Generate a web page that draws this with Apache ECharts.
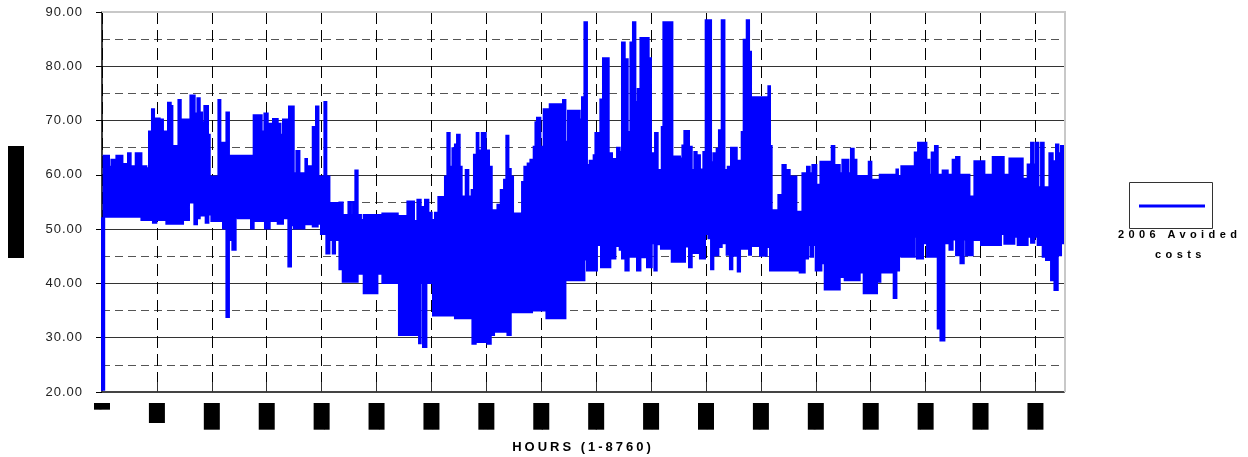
<!DOCTYPE html>
<html>
<head>
<meta charset="utf-8">
<script src="https://cdn.jsdelivr.net/npm/echarts@6/dist/echarts.min.js"></script>
<style>
html,body{margin:0;padding:0;background:#fff;}
#chart{width:1248px;height:457px;}
</style>
</head>
<body>
<div id="chart"></div>
<script>
// ---- Data (hour where a level starts, level in $/MWh) ----
const seriesName = '2006 Avoided costs';
const xTickLabels = ['0','500','1000','1500','2000','2500','3000','3500','4000','4500','5000','5500','6000','6500','7000','7500','8000','8500'];
const yTickLabels = ['20.00','30.00','40.00','50.00','60.00','70.00','80.00','90.00'];

// upper envelope of the hourly price trace
const highHours = [0,15,64,86,131,186,237,261,307,359,404,428,455,474,525,555,601,626,641,696,717,787,805,844,869,890,911,932,965,981,1060,1078,1133,1156,1381,1454,1479,1509,1539,1557,1600,1625,1648,1685,1703,1746,1770,1798,1852,1867,1919,1949,1971,2025,2043,2071,2162,2192,2244,2267,2286,2307,2328,2358,2383,2553,2693,2781,2841,2872,2902,2941,2972,3002,3032,3063,3123,3145,3166,3191,3214,3233,3257,3275,3312,3336,3366,3387,3412,3428,3458,3494,3524,3549,3601,3631,3661,3682,3701,3722,3743,3825,3846,3876,3901,3931,3947,3961,3992,4022,4077,4198,4220,4243,4350,4371,4393,4416,4441,4477,4493,4538,4562,4614,4644,4690,4714,4735,4760,4787,4812,4835,4857,4878,4903,4978,4999,5036,5060,5097,5112,5194,5263,5285,5303,5345,5370,5394,5415,5445,5476,5497,5546,5567,5597,5618,5643,5668,5698,5728,5780,5825,5843,5871,5892,5910,6068,6083,6098,6159,6196,6226,6262,6323,6378,6420,6444,6469,6505,6542,6645,6669,6718,6742,6797,6820,6845,6870,6982,7006,7082,7234,7248,7279,7401,7431,7507,7519,7534,7555,7585,7610,7655,7701,7746,7777,7808,7899,7944,8035,8111,8211,8263,8384,8429,8460,8484,8505,8527,8551,8575,8627,8657,8687,8709,8733];
const highValues = [52.0,63.5,61.5,62.8,63.5,62.0,64.0,61.6,64.0,61.6,61.2,68.0,72.1,70.4,70.2,68.0,73.3,72.7,65.3,73.8,70.2,69.7,74.6,71.3,74.1,71.5,69.7,72.7,67.4,59.7,73.8,65.9,71.5,63.5,71.0,68.0,71.3,69.4,66.6,70.3,69.4,67.4,70.2,60.3,72.6,60.3,64.4,60.3,62.9,61.6,68.8,72.6,59.7,73.4,59.7,54.8,54.9,52.6,55.0,52.6,55.0,60.8,52.6,51.7,52.6,52.9,52.4,55.1,51.5,55.4,54.1,55.4,53.0,51.7,53.0,55.9,59.7,67.7,61.5,64.9,65.6,67.4,61.5,56.0,60.9,56.0,57.2,63.7,67.7,64.5,67.7,64.5,61.5,53.5,54.5,57.2,59.1,67.2,61.1,59.7,52.9,58.7,61.5,62.1,62.8,65.2,69.7,70.5,65.2,72.1,73.0,73.8,66.1,71.8,70.2,74.3,88.1,61.8,62.6,63.6,67.7,73.9,81.5,64.0,62.9,65.0,64.2,84.4,81.3,67.9,84.4,88.1,73.4,75.8,85.2,81.5,64.0,67.7,60.9,68.8,88.1,63.4,63.0,65.4,68.1,65.2,60.9,64.2,63.6,61.0,64.2,88.5,62.3,64.0,64.8,68.2,88.5,60.9,61.5,65.0,62.6,67.9,84.9,88.5,82.7,74.3,76.3,65.3,53.5,56.3,61.8,60.9,59.7,53.2,60.3,61.5,60.3,61.8,58.2,62.4,65.3,61.8,60.3,62.8,60.3,64.8,62.8,59.8,62.4,59.1,60.0,61.0,59.8,61.6,64.1,65.9,61.8,62.8,60.0,64.1,65.3,60.0,60.8,60.0,62.8,63.3,60.0,56.0,62.5,60.0,63.3,60.0,63.0,59.3,61.9,65.9,61.9,65.9,57.7,65.9,57.7,64.0,62.5,65.6,64.0,65.3];

// lower envelope of the hourly price trace
const lowHours = [0,20,359,464,495,586,738,792,841,865,890,944,969,996,1102,1133,1156,1187,1217,1236,1357,1381,1484,1527,1600,1648,1697,1721,1746,1843,1919,1964,1994,2043,2071,2101,2122,2162,2192,2328,2383,2508,2553,2690,2704,2887,2902,2923,2954,3014,3214,3373,3403,3509,3540,3570,3692,3722,3916,4047,4220,4393,4416,4507,4544,4629,4675,4714,4735,4766,4796,4872,4903,4963,5006,5030,5051,5090,5188,5309,5345,5370,5445,5491,5522,5546,5567,5613,5643,5688,5718,5740,5789,5810,5892,5910,5992,6053,6083,6353,6399,6429,6451,6475,6499,6551,6581,6718,6763,6900,6936,7057,7088,7209,7234,7258,7279,7401,7421,7476,7513,7610,7635,7671,7717,7746,7777,7817,7847,7868,7929,8004,8186,8217,8308,8338,8429,8460,8490,8520,8566,8596,8642,8673,8703,8733];
const lowValues = [20.4,52.3,51.7,51.2,51.7,51.0,51.7,54.9,50.9,52.0,52.5,51.2,52.7,51.5,50.1,33.8,48.0,46.2,52.3,52.0,50.1,51.5,50.1,51.5,51.0,52.0,43.1,50.7,50.1,50.9,50.5,51.0,49.1,45.5,48.0,45.5,48.0,42.6,40.3,41.8,38.2,41.8,40.1,42.6,30.5,29.0,40.1,28.3,40.1,34.1,33.6,28.9,29.2,28.9,30.5,31.1,30.5,34.7,35.0,33.6,40.6,44.4,42.4,47.1,43.0,44.6,46.9,46.2,44.6,42.4,44.9,42.4,44.8,43.0,47.4,42.4,47.2,46.4,44.0,46.8,43.0,45.6,44.6,49.1,48.3,42.6,45.2,46.7,47.4,45.3,42.6,45.1,42.2,46.4,45.3,46.9,45.1,46.7,42.4,42.0,44.6,47.1,44.9,47.1,42.4,43.7,38.9,41.2,40.6,42.0,38.2,40.3,42.0,37.3,42.4,45.1,44.9,48.6,44.6,47.4,44.9,31.7,29.5,47.4,46.2,48.1,45.2,43.7,48.1,45.2,48.0,47.1,49.1,47.3,48.6,47.1,48.6,47.5,48.6,47.1,44.9,44.3,40.6,38.8,45.2,47.4];

const HOUR_MAX = 8760;

// letter spacing as in the reference typography
(function(){
  const proto = CanvasRenderingContext2D.prototype;
  const d = Object.getOwnPropertyDescriptor(proto, 'font');
  if (!d || !('letterSpacing' in proto)) return;
  Object.defineProperty(proto, 'font', {
    configurable: true,
    get(){ return d.get.call(this); },
    set(v){
      d.set.call(this, v);
      let ls = '0px';
      if (/bold/.test(v) && /11px/.test(v)) ls = '4.4px';
      else if (/bold/.test(v)) ls = '3px';
      else if (/13px/.test(v)) ls = '1px';
      this.letterSpacing = ls;
    }
  });
})();

const chart = echarts.init(document.getElementById('chart'), null, {renderer: 'canvas'});
const FONT = "'Liberation Sans', Arial, sans-serif";

function bandPoints(api) {
  const pts = [];
  for (let i = 0; i < highHours.length; i++) {
    const x0 = highHours[i];
    const x1 = i + 1 < highHours.length ? highHours[i + 1] : HOUR_MAX;
    pts.push(api.coord([x0, highValues[i]]), api.coord([x1, highValues[i]]));
  }
  for (let i = lowHours.length - 1; i >= 0; i--) {
    const x0 = lowHours[i];
    const x1 = i + 1 < lowHours.length ? lowHours[i + 1] : HOUR_MAX;
    pts.push(api.coord([x1, lowValues[i]]), api.coord([x0, lowValues[i]]));
  }
  return pts;
}

chart.setOption({
  animation: false,
  backgroundColor: '#ffffff',
  grid: {left: 102, right: 184, top: 12, bottom: 65, outerBoundsMode: 'none', containLabel: false, show: false},
  legend: {
    left: 1134, top: 199.5, itemWidth: 66, itemHeight: 3, icon: 'rect',
    selectedMode: false, formatter: () => '', z: 10,
    data: [{name: seriesName, itemStyle: {color: '#0000FF'}}]
  },
  graphic: [
    {type: 'rect', z: 1, shape: {x: 1129.5, y: 182.5, width: 83, height: 46}, style: {fill: '#ffffff', stroke: '#333333', lineWidth: 1}},
    {type: 'text', z: 11, left: 1118, top: 227, style: {text: '2006 Avoided', font: "bold 11px 'Liberation Sans', Arial", fill: '#000'}},
    {type: 'text', z: 11, left: 1155, top: 247, style: {text: 'costs', font: "bold 11px 'Liberation Sans', Arial", fill: '#000'}},
    // light grey frame on the top and right of the plot, as in the reference
    {type: 'line', z: 20, shape: {x1: 102, y1: 12, x2: 1065, y2: 12}, style: {stroke: '#c8c8c8', lineWidth: 2}},
    {type: 'line', z: 20, shape: {x1: 1065, y1: 11, x2: 1065, y2: 392}, style: {stroke: '#c8c8c8', lineWidth: 2}}
  ],
  xAxis: {
    type: 'value', min: 0, max: HOUR_MAX, interval: 500,
    name: 'HOURS (1-8760)', nameLocation: 'middle', nameGap: 47,
    nameTextStyle: {fontFamily: FONT, fontSize: 13, fontWeight: 'bold', color: '#000'},
    axisLine: {show: true, onZero: false, lineStyle: {color: '#444', width: 2}},
    axisTick: {show: true, inside: true, length: 10, lineStyle: {color: '#333'}},
    axisLabel: {
      rotate: 90, margin: 11, fontSize: 12, fontFamily: FONT, color: '#000',
      backgroundColor: '#000', padding: [1, 0], lineHeight: 14, showMaxLabel: false,
      formatter: (v) => { const i = Math.round(v / 500); return v % 500 === 0 && i < xTickLabels.length ? xTickLabels[i] : ''; }
    },
    splitLine: {show: true, lineStyle: {color: '#000', width: 1, type: [12, 6]}}
  },
  yAxis: {
    type: 'value', min: 20, max: 90, interval: 10,
    name: '$/MWh', nameLocation: 'middle', nameGap: 78, nameRotate: 90,
    nameTextStyle: {fontFamily: FONT, fontSize: 12, color: '#000', backgroundColor: '#000', padding: [2, 37]},
    axisLine: {show: true, lineStyle: {color: '#000', width: 1.5}},
    axisTick: {show: true, length: 6, lineStyle: {color: '#000'}},
    axisLabel: {margin: 19, fontSize: 13, fontFamily: FONT, color: '#222',
      formatter: (v) => yTickLabels[Math.round((v - 20) / 10)] || ''},
    splitLine: {show: true, lineStyle: {color: '#333', width: 1}},
    minorTick: {show: false, splitNumber: 2},
    minorSplitLine: {show: true, lineStyle: {color: '#555', width: 1, type: [8, 5]}}
  },
  series: [{
    type: 'custom', name: seriesName, coordinateSystem: 'cartesian2d',
    itemStyle: {color: '#0000FF'},
    data: [[0, highValues[0]]],
    renderItem: (params, api) => ({
      type: 'polygon',
      shape: {points: bandPoints(api)},
      style: {fill: '#0000FF', stroke: '#0000FF', lineWidth: 2, lineJoin: 'miter'}
    })
  }]
});
</script>
</body>
</html>
